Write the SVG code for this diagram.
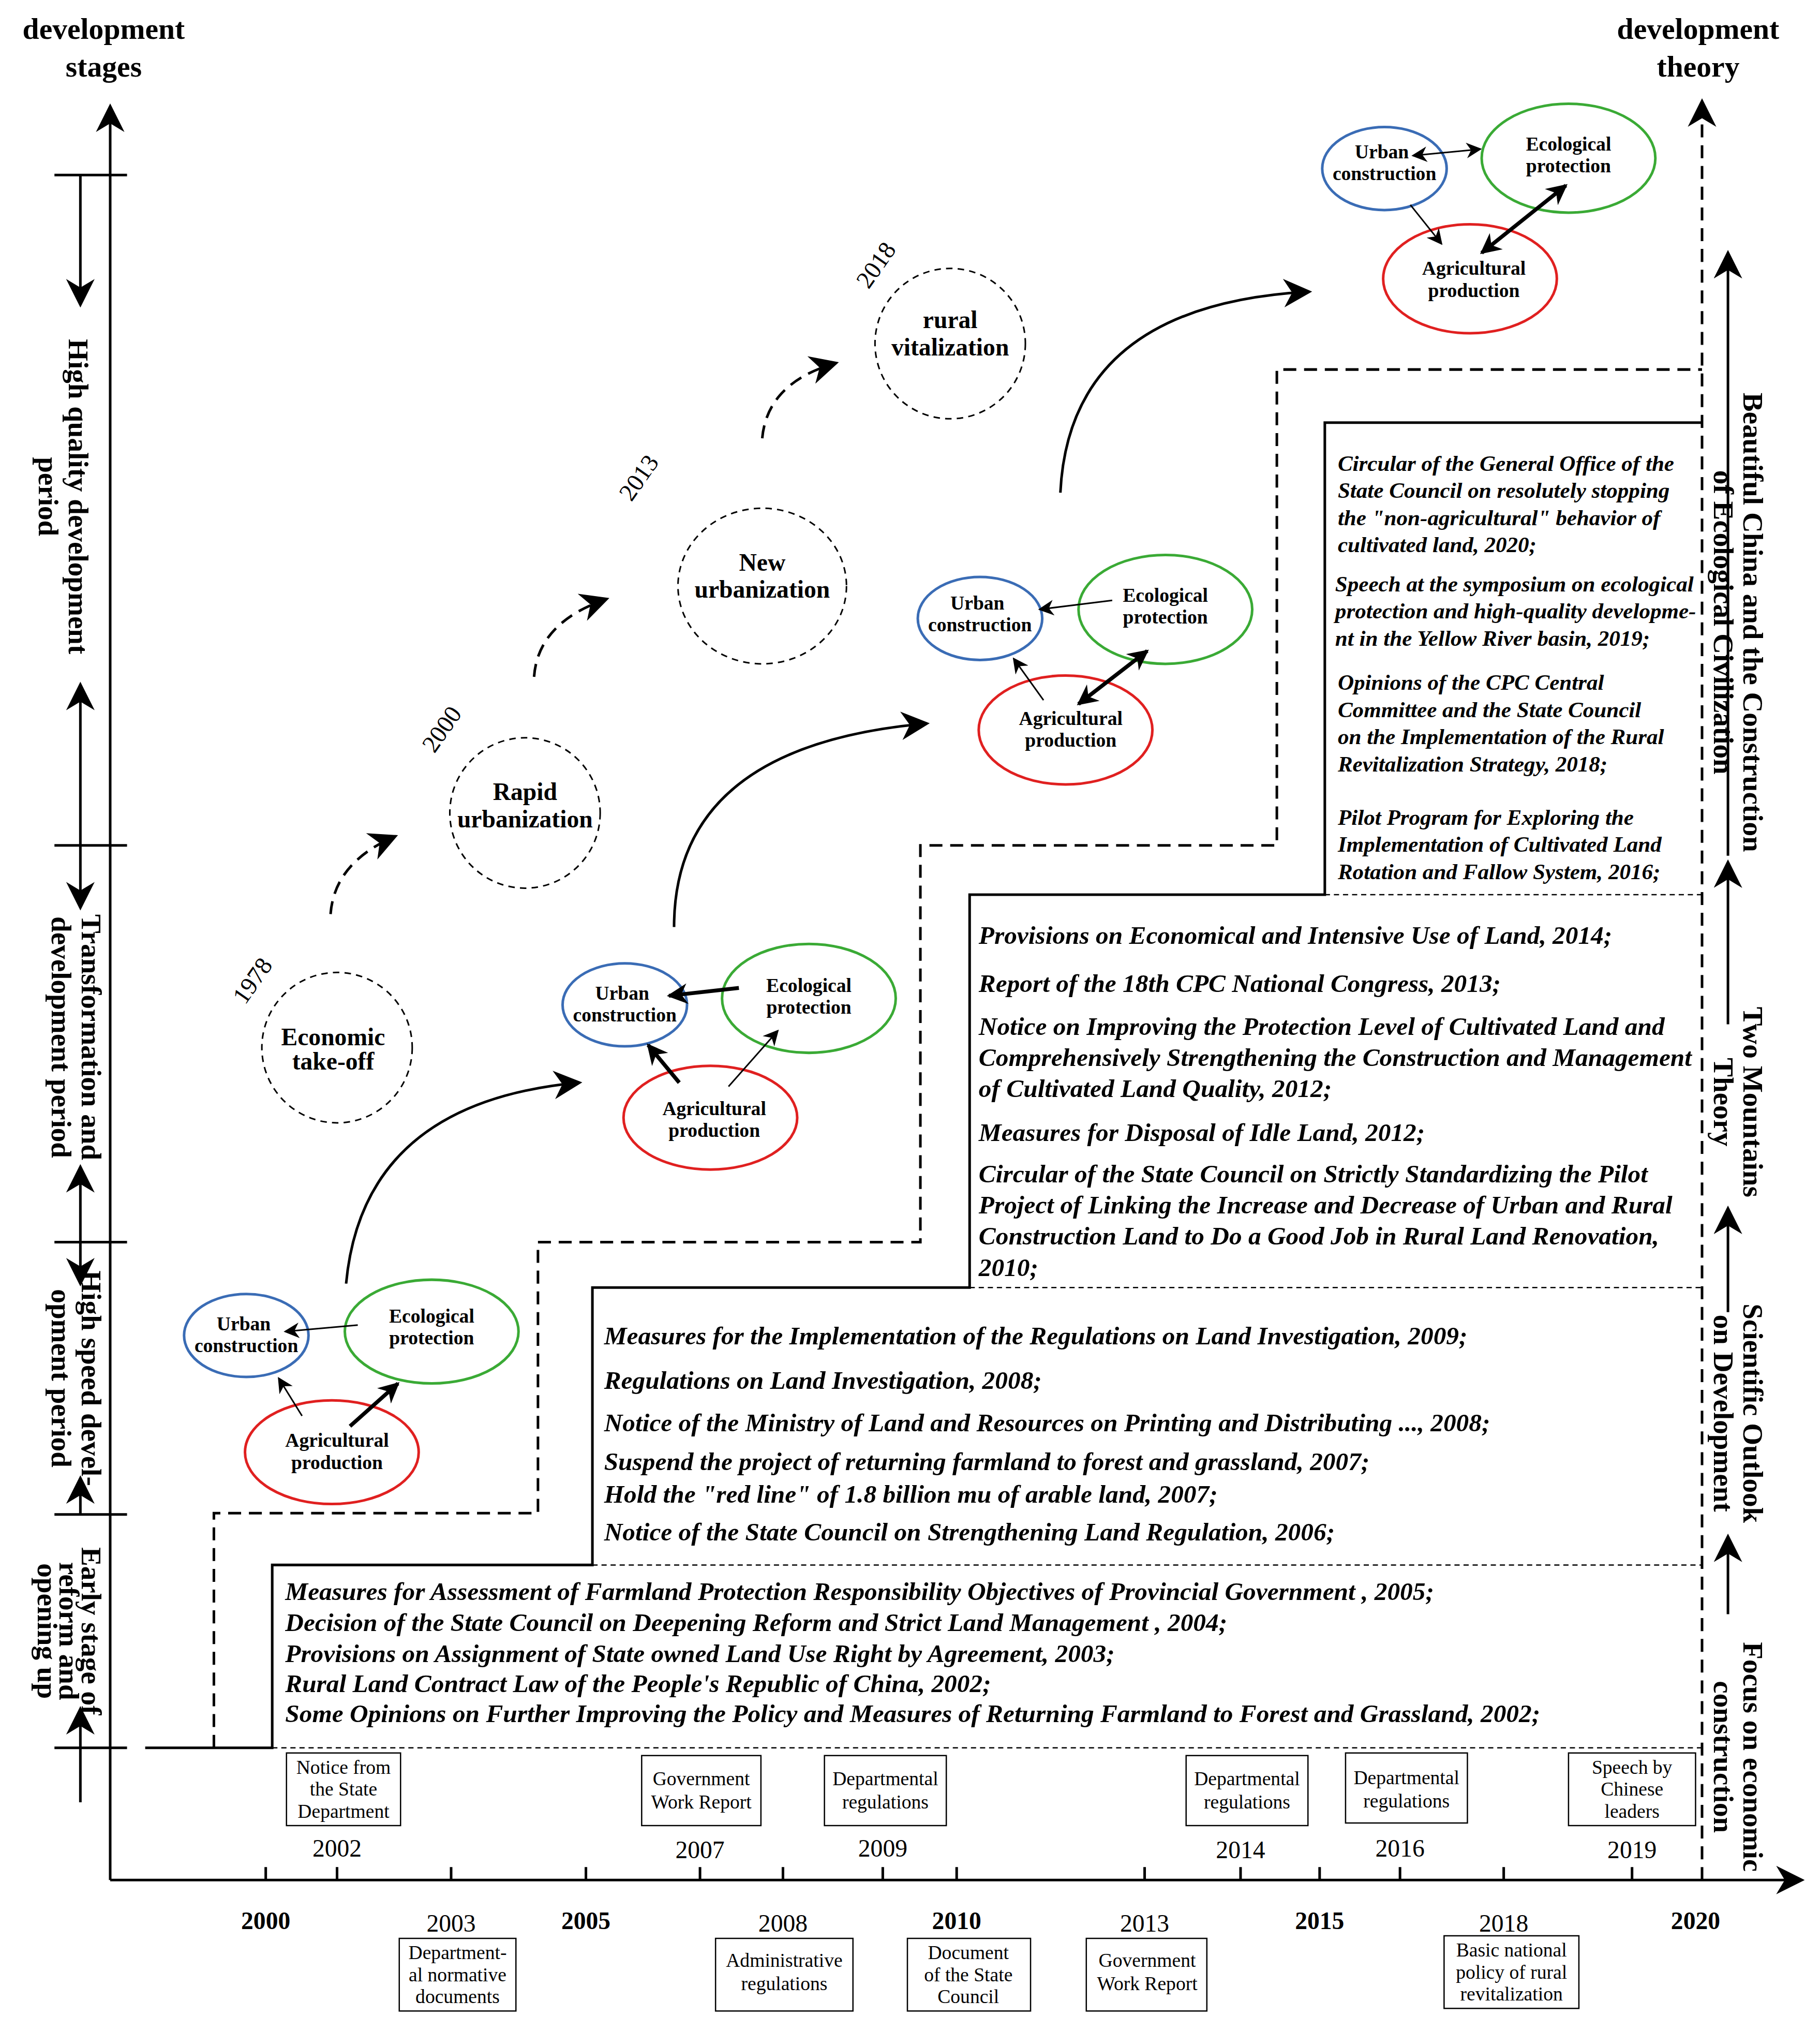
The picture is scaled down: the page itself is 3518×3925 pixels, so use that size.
<svg xmlns="http://www.w3.org/2000/svg" width="3518" height="3925" viewBox="0 0 3518 3925">
<defs>
<marker id="ab" viewBox="0 0 10 10" refX="9" refY="5" markerWidth="22" markerHeight="22" orient="auto-start-reverse" markerUnits="userSpaceOnUse"><path d="M0,0 L10,5 L0,10 L3,5 z" fill="#000"/></marker>
<marker id="as" viewBox="0 0 10 10" refX="9" refY="5" markerWidth="12" markerHeight="12" orient="auto-start-reverse" markerUnits="userSpaceOnUse"><path d="M0,0 L10,5 L0,10 L3,5 z" fill="#000"/></marker>
<marker id="am" viewBox="0 0 10 10" refX="9" refY="5" markerWidth="16" markerHeight="16" orient="auto-start-reverse" markerUnits="userSpaceOnUse"><path d="M0,0 L10,5 L0,10 L3,5 z" fill="#000"/></marker>
</defs>
<style>
.t{font-family:"Liberation Serif",serif;fill:#000}
.b{font-weight:bold}
.pol{font-family:"Liberation Serif",serif;font-style:italic;font-weight:bold;font-size:19.7px}
.yr{font-family:"Liberation Serif",serif;font-size:19px;text-anchor:middle}
.yb{font-family:"Liberation Serif",serif;font-size:19px;font-weight:bold;text-anchor:middle}
.bx{fill:#fff;stroke:#000;stroke-width:1}
.bl{font-family:"Liberation Serif",serif;font-size:15px;text-anchor:middle}
.ln{stroke:#000;stroke-width:2;fill:none}
.dl{stroke:#000;stroke-width:2;fill:none;stroke-dasharray:10 6}
.th{stroke:#000;stroke-width:1;fill:none;stroke-dasharray:4 3}
.dc{fill:none;stroke:#000;stroke-width:1.2;stroke-dasharray:5 4}
.ct{font-family:"Liberation Serif",serif;font-weight:bold;font-size:19px;text-anchor:middle}
.et{font-family:"Liberation Serif",serif;font-weight:bold;font-size:15px;text-anchor:middle}
.u{fill:#fff;stroke:#3a6cb5;stroke-width:2}
.e{fill:#fff;stroke:#3aaa35;stroke-width:2}
.a{fill:#fff;stroke:#e02020;stroke-width:2}
.ta{stroke:#000;stroke-width:1.2;fill:none;marker-end:url(#as)}
.tb{stroke:#000;stroke-width:3;fill:none;marker-end:url(#am)}
</style>
<rect width="3518" height="3925" fill="#fff"/>
<g transform="scale(2.5057)">
<g id="connectors">
<line class="ln" x1="85" y1="1450" x2="85" y2="82" marker-end="url(#ab)"/>
<line class="ln" x1="85" y1="1450" x2="1390" y2="1450" marker-end="url(#ab)"/>
<line class="dl" x1="1313" y1="1450" x2="1313" y2="78" marker-end="url(#ab)"/>
<g class="ln">
<line x1="205" y1="1450" x2="205" y2="1440"/><line x1="348" y1="1450" x2="348" y2="1440"/><line x1="452" y1="1450" x2="452" y2="1440"/><line x1="604" y1="1450" x2="604" y2="1440"/><line x1="738" y1="1450" x2="738" y2="1440"/><line x1="883" y1="1450" x2="883" y2="1440"/><line x1="1018" y1="1450" x2="1018" y2="1440"/><line x1="1160" y1="1450" x2="1160" y2="1440"/>
<line x1="260" y1="1450" x2="260" y2="1440"/><line x1="540" y1="1450" x2="540" y2="1440"/><line x1="681" y1="1450" x2="681" y2="1440"/><line x1="957" y1="1450" x2="957" y2="1440"/><line x1="1080" y1="1450" x2="1080" y2="1440"/><line x1="1259" y1="1450" x2="1259" y2="1440"/>
</g>
<g class="ln">
<line x1="42" y1="135" x2="98" y2="135"/><line x1="42" y1="652" x2="98" y2="652"/><line x1="42" y1="958" x2="98" y2="958"/><line x1="42" y1="1168" x2="98" y2="1168"/><line x1="42" y1="1348" x2="98" y2="1348"/>
</g>
<g stroke="#000" stroke-width="2">
<line x1="62" y1="135" x2="62" y2="235" marker-end="url(#ab)"/>
<line x1="62" y1="652" x2="62" y2="528" marker-end="url(#ab)"/>
<line x1="62" y1="652" x2="62" y2="700" marker-end="url(#ab)"/>
<line x1="62" y1="958" x2="62" y2="900" marker-end="url(#ab)"/>
<line x1="62" y1="958" x2="62" y2="990" marker-end="url(#ab)"/>
<line x1="62" y1="1168" x2="62" y2="1140" marker-end="url(#ab)"/>
<line x1="62" y1="1390" x2="62" y2="1318" marker-end="url(#ab)"/>
<line x1="1333" y1="660" x2="1333" y2="195" marker-end="url(#ab)"/>
<line x1="1333" y1="790" x2="1333" y2="665" marker-end="url(#ab)"/>
<line x1="1333" y1="1012" x2="1333" y2="932" marker-end="url(#ab)"/>
<line x1="1333" y1="1245" x2="1333" y2="1185" marker-end="url(#ab)"/>
</g>
<polyline class="ln" points="112,1348 210,1348 210,1207 457,1207 457,993 748,993 748,690 1022,690 1022,326 1313,326"/>
<polyline class="dl" points="165,1348 165,1167 415,1167 415,958 710,958 710,652 985,652 985,285 1313,285"/>
<line class="th" x1="210" y1="1348" x2="1313" y2="1348"/>
<line class="th" x1="457" y1="1207" x2="1313" y2="1207"/>
<line class="th" x1="748" y1="993" x2="1313" y2="993"/>
<line class="th" x1="1022" y1="690" x2="1313" y2="690"/>
<path class="dl" d="M255,705 Q258,665 305,645" marker-end="url(#ab)" stroke-dasharray="6 4"/>
<path class="dl" d="M412,522 Q415,480 468,462" marker-end="url(#ab)" stroke-dasharray="6 4"/>
<path class="dl" d="M588,338 Q592,295 645,280" marker-end="url(#ab)" stroke-dasharray="6 4"/>
<path class="ln" d="M267,990 Q280,850 447,835" marker-end="url(#ab)"/>
<path class="ln" d="M520,715 Q520,575 715,558" marker-end="url(#ab)"/>
<path class="ln" d="M818,380 Q825,235 1010,225" marker-end="url(#ab)"/>
</g>
<g id="stages" class="t b" font-size="22">
<text x="80" y="30" text-anchor="middle" font-size="23">development</text>
<text x="80" y="59" text-anchor="middle" font-size="23">stages</text>
<text transform="translate(53,383) rotate(90)" text-anchor="middle">High quality development</text>
<text transform="translate(30,383) rotate(90)" text-anchor="middle">period</text>
<text transform="translate(63,800) rotate(90)" text-anchor="middle">Transformation and</text>
<text transform="translate(40,800) rotate(90)" text-anchor="middle">development period</text>
<text transform="translate(63,1063) rotate(90)" text-anchor="middle">High speed devel-</text>
<text transform="translate(40,1063) rotate(90)" text-anchor="middle">opment period</text>
<text transform="translate(63,1258) rotate(90)" text-anchor="middle">Early stage of</text>
<text transform="translate(46,1258) rotate(90)" text-anchor="middle">reform and</text>
<text transform="translate(29,1258) rotate(90)" text-anchor="middle">opening up</text>
<text x="1310" y="30" text-anchor="middle" font-size="23">development</text>
<text x="1310" y="59" text-anchor="middle" font-size="23">theory</text>
<text transform="translate(1345,480) rotate(90)" text-anchor="middle">Beautiful China and the Construction</text>
<text transform="translate(1322,480) rotate(90)" text-anchor="middle">of Ecological Civilization</text>
<text transform="translate(1345,850) rotate(90)" text-anchor="middle">Two Mountains</text>
<text transform="translate(1322,850) rotate(90)" text-anchor="middle">Theory</text>
<text transform="translate(1345,1090) rotate(90)" text-anchor="middle">Scientific Outlook</text>
<text transform="translate(1322,1090) rotate(90)" text-anchor="middle">on Development</text>
<text transform="translate(1345,1355) rotate(90)" text-anchor="middle">Focus on economic</text>
<text transform="translate(1322,1355) rotate(90)" text-anchor="middle">construction</text>
</g>
<g id="years">
<text class="yb" x="205" y="1488">2000</text><text class="yb" x="452" y="1488">2005</text><text class="yb" x="738" y="1488">2010</text><text class="yb" x="1018" y="1488">2015</text><text class="yb" x="1308" y="1488">2020</text>
<text class="yr" x="348" y="1490">2003</text><text class="yr" x="604" y="1490">2008</text><text class="yr" x="883" y="1490">2013</text><text class="yr" x="1160" y="1490">2018</text>
<text class="yr" x="260" y="1432">2002</text><text class="yr" x="540" y="1433">2007</text><text class="yr" x="681" y="1432">2009</text><text class="yr" x="957" y="1433">2014</text><text class="yr" x="1080" y="1432">2016</text><text class="yr" x="1259" y="1433">2019</text>
</g>
<g id="boxes">
<rect class="bx" x="221" y="1352" width="88" height="56"/><text class="bl" x="265" y="1368">Notice from</text><text class="bl" x="265" y="1385">the State</text><text class="bl" x="265" y="1402">Department</text>
<rect class="bx" x="495" y="1354" width="92" height="54"/><text class="bl" x="541" y="1377">Government</text><text class="bl" x="541" y="1395">Work Report</text>
<rect class="bx" x="636" y="1354" width="94" height="54"/><text class="bl" x="683" y="1377">Departmental</text><text class="bl" x="683" y="1395">regulations</text>
<rect class="bx" x="915" y="1354" width="94" height="54"/><text class="bl" x="962" y="1377">Departmental</text><text class="bl" x="962" y="1395">regulations</text>
<rect class="bx" x="1038" y="1352" width="94" height="54"/><text class="bl" x="1085" y="1376">Departmental</text><text class="bl" x="1085" y="1394">regulations</text>
<rect class="bx" x="1210" y="1352" width="98" height="56"/><text class="bl" x="1259" y="1368">Speech by</text><text class="bl" x="1259" y="1385">Chinese</text><text class="bl" x="1259" y="1402">leaders</text>
<rect class="bx" x="308" y="1495" width="90" height="56"/><text class="bl" x="353" y="1511">Department-</text><text class="bl" x="353" y="1528">al normative</text><text class="bl" x="353" y="1545">documents</text>
<rect class="bx" x="552" y="1495" width="106" height="56"/><text class="bl" x="605" y="1517">Administrative</text><text class="bl" x="605" y="1535">regulations</text>
<rect class="bx" x="700" y="1495" width="95" height="56"/><text class="bl" x="747" y="1511">Document</text><text class="bl" x="747" y="1528">of the State</text><text class="bl" x="747" y="1545">Council</text>
<rect class="bx" x="838" y="1495" width="93" height="56"/><text class="bl" x="885" y="1517">Government</text><text class="bl" x="885" y="1535">Work Report</text>
<rect class="bx" x="1114" y="1493" width="104" height="56"/><text class="bl" x="1166" y="1509">Basic national</text><text class="bl" x="1166" y="1526">policy of rural</text><text class="bl" x="1166" y="1543">revitalization</text>
</g>
<g id="policies" class="pol">
<text x="220" y="1234">Measures for Assessment of Farmland Protection Responsibility Objectives of Provincial Government , 2005;</text>
<text x="220" y="1258">Decision of the State Council on Deepening Reform and Strict Land Management , 2004;</text>
<text x="220" y="1282">Provisions on Assignment of State owned Land Use Right by Agreement, 2003;</text>
<text x="220" y="1305">Rural Land Contract Law of the People's Republic of China, 2002;</text>
<text x="220" y="1328">Some Opinions on Further Improving the Policy and Measures of Returning Farmland to Forest and Grassland, 2002;</text>
<text x="466" y="1037">Measures for the Implementation of the Regulations on Land Investigation, 2009;</text>
<text x="466" y="1071">Regulations on Land Investigation, 2008;</text>
<text x="466" y="1104">Notice of the Ministry of Land and Resources on Printing and Distributing ..., 2008;</text>
<text x="466" y="1134">Suspend the project of returning farmland to forest and grassland, 2007;</text>
<text x="466" y="1159">Hold the "red line" of 1.8 billion mu of arable land, 2007;</text>
<text x="466" y="1188">Notice of the State Council on Strengthening Land Regulation, 2006;</text>
<text x="755" y="728">Provisions on Economical and Intensive Use of Land, 2014;</text>
<text x="755" y="765">Report of the 18th CPC National Congress, 2013;</text>
<text x="755" y="798">Notice on Improving the Protection Level of Cultivated Land and</text>
<text x="755" y="822">Comprehensively Strengthening the Construction and Management</text>
<text x="755" y="846"> of Cultivated Land Quality, 2012;</text>
<text x="755" y="880">Measures for Disposal of Idle Land, 2012;</text>
<text x="755" y="912">Circular of the State Council on Strictly Standardizing the Pilot</text>
<text x="755" y="936">Project of Linking the Increase and Decrease of Urban and Rural</text>
<text x="755" y="960">Construction Land to Do a Good Job in Rural Land Renovation,</text>
<text x="755" y="984">2010;</text>
<g font-size="17.2">
<text x="1032" y="363">Circular of the General Office of the</text>
<text x="1032" y="384">State Council on resolutely stopping</text>
<text x="1032" y="405">the "non-agricultural" behavior of</text>
<text x="1032" y="426">cultivated land, 2020;</text>
<text x="1030" y="456">Speech at the symposium on ecological</text>
<text x="1030" y="477">protection and high-quality developme-</text>
<text x="1030" y="498">nt in the Yellow River basin, 2019;</text>
<text x="1032" y="532">Opinions of the CPC Central</text>
<text x="1032" y="553">Committee and the State Council</text>
<text x="1032" y="574">on the Implementation of the Rural</text>
<text x="1032" y="595">Revitalization Strategy, 2018;</text>
<text x="1032" y="636">Pilot Program for Exploring the</text>
<text x="1032" y="657">Implementation of Cultivated Land</text>
<text x="1032" y="678">Rotation and Fallow System, 2016;</text>
</g>
</g>
<g id="c1"><circle class="dc" cx="260" cy="808" r="58"/><text class="ct" x="257" y="806">Economic</text><text class="ct" x="257" y="825">take-off</text><text class="yr" transform="translate(200,760) rotate(-55)">1978</text></g>
<g id="c2"><circle class="dc" cx="405" cy="627" r="58"/><text class="ct" x="405" y="617">Rapid</text><text class="ct" x="405" y="638" font-size="18">urbanization</text><text class="yr" transform="translate(346,566) rotate(-55)">2000</text></g>
<g id="c3"><ellipse class="dc" cx="588" cy="452" rx="65" ry="60"/><text class="ct" x="588" y="440">New</text><text class="ct" x="588" y="461" font-size="18">urbanization</text><text class="yr" transform="translate(498,372) rotate(-55)">2013</text></g>
<g id="c4"><circle class="dc" cx="733" cy="265" r="58"/><text class="ct" x="733" y="253">rural</text><text class="ct" x="733" y="274" font-size="18">vitalization</text><text class="yr" transform="translate(681,208) rotate(-55)">2018</text></g>
<g id="triad1">
<ellipse class="u" cx="190" cy="1030" rx="48" ry="32"/><text class="et" x="188" y="1026">Urban</text><text class="et" x="190" y="1043">construction</text>
<ellipse class="e" cx="333" cy="1027" rx="67" ry="40"/><text class="et" x="333" y="1020">Ecological</text><text class="et" x="333" y="1037">protection</text>
<ellipse class="a" cx="256" cy="1120" rx="67" ry="40"/><text class="et" x="260" y="1116">Agricultural</text><text class="et" x="260" y="1133">production</text>
<line class="ta" x1="276" y1="1022" x2="220" y2="1027"/>
<line class="ta" x1="233" y1="1092" x2="215" y2="1063"/>
<line class="tb" x1="270" y1="1100" x2="307" y2="1067"/>
</g>
<g id="triad2">
<ellipse class="u" cx="482" cy="775" rx="48" ry="32"/><text class="et" x="480" y="771">Urban</text><text class="et" x="482" y="788">construction</text>
<ellipse class="e" cx="624" cy="770" rx="67" ry="42"/><text class="et" x="624" y="765">Ecological</text><text class="et" x="624" y="782">protection</text>
<ellipse class="a" cx="548" cy="862" rx="67" ry="40"/><text class="et" x="551" y="860">Agricultural</text><text class="et" x="551" y="877">production</text>
<line class="tb" x1="570" y1="762" x2="516" y2="768"/>
<line class="tb" x1="524" y1="835" x2="500" y2="806"/>
<line class="ta" x1="562" y1="838" x2="600" y2="795"/>
</g>
<g id="triad3">
<ellipse class="u" cx="756" cy="477" rx="48" ry="32"/><text class="et" x="754" y="470">Urban</text><text class="et" x="756" y="487">construction</text>
<ellipse class="e" cx="899" cy="470" rx="67" ry="42"/><text class="et" x="899" y="464">Ecological</text><text class="et" x="899" y="481">protection</text>
<ellipse class="a" cx="822" cy="563" rx="67" ry="42"/><text class="et" x="826" y="559">Agricultural</text><text class="et" x="826" y="576">production</text>
<line class="ta" x1="858" y1="463" x2="802" y2="470"/>
<line class="ta" x1="805" y1="540" x2="782" y2="508"/>
<line class="tb" x1="832" y1="543" x2="885" y2="502" marker-start="url(#am)"/>
</g>
<g id="triad4">
<ellipse class="u" cx="1068" cy="130" rx="48" ry="32"/><text class="et" x="1066" y="122">Urban</text><text class="et" x="1068" y="139">construction</text>
<ellipse class="e" cx="1210" cy="122" rx="67" ry="42"/><text class="et" x="1210" y="116">Ecological</text><text class="et" x="1210" y="133">protection</text>
<ellipse class="a" cx="1134" cy="215" rx="67" ry="42"/><text class="et" x="1137" y="212">Agricultural</text><text class="et" x="1137" y="229">production</text>
<line class="ta" x1="1090" y1="120" x2="1142" y2="115" marker-start="url(#as)"/>
<line class="ta" x1="1088" y1="158" x2="1112" y2="188"/>
<line class="tb" x1="1143" y1="195" x2="1208" y2="143" marker-start="url(#am)"/>
</g>
</g>
</svg>
